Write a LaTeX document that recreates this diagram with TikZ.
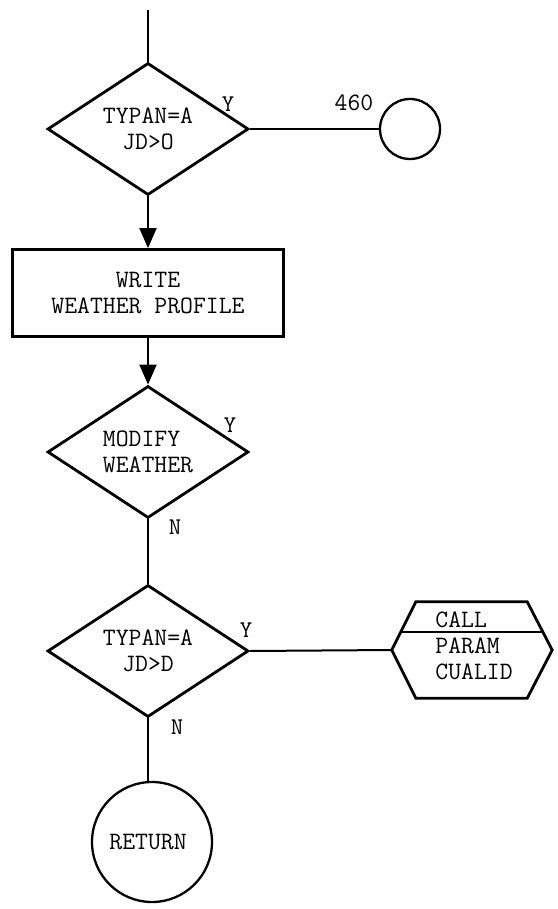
\documentclass[tikz,border=0pt]{standalone}
\usepackage{fontspec}
\usetikzlibrary{arrows.meta, positioning, calc, shapes.geometric}

\begin{document}
\begin{tikzpicture}[
      x=1pt, y=-1pt,
      font=\ttfamily\fontsize{25}{26}\selectfont,
      decision/.style={draw, diamond, line width=2.8pt, inner sep=0pt,
        minimum width=201pt, minimum height=128pt, align=center},
      processbox/.style={draw, line width=2.8pt, minimum width=271pt,
        minimum height=87pt, align=center},
      connector/.style={draw, circle, line width=2.3pt, inner sep=0pt},
      hexbox/.style={minimum width=160pt, minimum height=96pt, inner sep=0pt},
      flow/.style={line width=2pt},
      branch/.style={font=\ttfamily\fontsize{24}{26}\selectfont},
      >={Triangle[length=20pt, width=17pt]}
    ]
      \useasboundingbox (0,0) rectangle (557,909);
      \coordinate (entry) at (148,10);
      \node[decision] (typan1) at (148,129) {TYPAN=A\\JD>O};
      \node[connector, minimum size=60pt] (goto) at (410,129) {};
      \node[processbox] (write) at (148,293) {WRITE\\WEATHER PROFILE};
      \node[decision, align=left] (modify) at (148,452) {MODIFY\\WEATHER};
      \node[decision, minimum height=132pt] (typan2) at (148,651) {TYPAN=A\\JD>D};
      \node[hexbox] (call) at (472,650) {};
      \node[align=left] (calltxt) at (474,646) {CALL\\PARAM\\CUALID};
      \node[connector, minimum size=120pt] (return) at (152,842) {RETURN\hspace*{8pt}};

      % hexagon of the call box
      \draw[line width=2.8pt] (call.west) -- ([xshift=24pt]call.north west)
        -- ([xshift=-25pt]call.north east) -- (call.east)
        -- ([xshift=-25pt]call.south east) -- ([xshift=24pt]call.south west)
        -- cycle;
      \draw[line width=2.8pt] ($(call.west)+(9.2pt,18pt)$)
        -- ($(call.east)+(-9.4pt,18pt)$);

      \draw[flow] (entry) -- (typan1.north);
      \draw[flow] (typan1.east) -- (goto.west);
      \draw[flow, ->] (typan1.south) -- (write.north);
      \draw[flow, ->] (write.south) -- (modify.north);
      \draw[flow] (modify.south) -- (typan2.north);
      \draw[flow] (typan2.east) -- (call.west);
      \draw[flow] (typan2.south) -- (return.north -| typan2.south);

      \node[branch] (y1) at (228,104) {Y};
      \node (lbl460) at (354,103) {460};
      \node[branch] (y2) at (230,425) {Y};
      \node[branch] (n2) at (175,527) {N};
      \node[branch] (y3) at (246,630) {Y};
      \node[branch] (n3) at (177,727) {N};
    \end{tikzpicture}
\end{document}
